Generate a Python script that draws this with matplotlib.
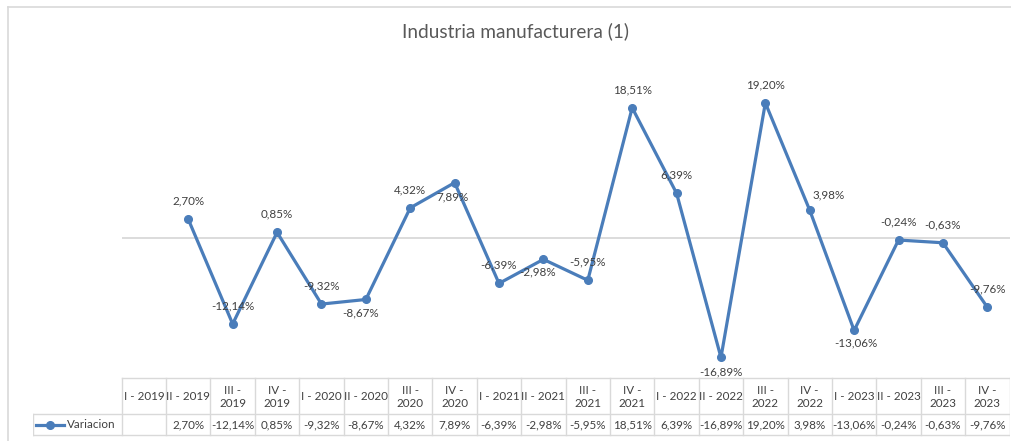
import numpy as np
import matplotlib.pyplot as plt

plt.rcParams['font.family'] = ['Lato', 'DejaVu Sans']

# Quarter labels and values (%)
quarters = ["I - 2019", "II - 2019", "III -\n2019", "IV -\n2019",
            "I - 2020", "II - 2020", "III -\n2020", "IV -\n2020",
            "I - 2021", "II - 2021", "III -\n2021", "IV -\n2021",
            "I - 2022", "II - 2022", "III -\n2022", "IV -\n2022",
            "I - 2023", "II - 2023", "III -\n2023", "IV -\n2023"]
variacion = [np.nan, 2.70, -12.14, 0.85, -9.32, -8.67, 4.32, 7.89, -6.39, -2.98,
             -5.95, 18.51, 6.39, -16.89, 19.20, 3.98, -13.06, -0.24, -0.63, -9.76]
series_name = "Variacion"
title = "Industria manufacturera (1)"

W, H = 1012, 441
blue = '#4a7dba'
grid = '#d9d9d9'
txt = '#404040'

def fmt(v):
    return "{:.2f}%".format(v).replace('.', ',')

# label offsets in pixels (dx, dy), just to place them like the original
lab_off = {5: (-5, -13), 7: (-2, -14), 9: (-6, -13), 13: (0, -14),
           15: (19, 15), 16: (2, -12)}

fig = plt.figure(figsize=(W / 100, H / 100), dpi=100)

# chart border (left/top visible)
fig.add_artist(plt.Line2D([8 / W, 8 / W], [0, 1 - 7 / H], color=grid, lw=1.2))
fig.add_artist(plt.Line2D([8 / W, 1], [1 - 7 / H, 1 - 7 / H], color=grid, lw=1.2))

x0, x1 = 121.7, 1009.5
ytop, ybot = 62, 379.4
ax = fig.add_axes([x0 / W, 1 - ybot / H, (x1 - x0) / W, (ybot - ytop) / H])
n = len(quarters)
idx = np.arange(n)
ax.set_xlim(-0.5, n - 0.5)
ax.set_ylim(-20, 25)
ax.axhline(0, color=grid, lw=1.3, zorder=1)
ax.plot(idx, variacion, color=blue, lw=2.3, marker='o', ms=5.5, zorder=3)
for i, v in enumerate(variacion):
    if np.isnan(v):
        continue
    dx, dy = lab_off.get(i, (0, 18))
    ax.annotate(fmt(v), (i, v), xytext=(dx, dy), textcoords='offset pixels',
                ha='center', va='center', fontsize=8.4, color=txt)
ax.axis('off')

fig.text(516 / W, 1 - 31 / H, title, ha='center', va='center',
         fontsize=13.7, color='#595959')

# data table under the chart
t_top, t_mid, t_bot = 378, 414, 435
lx = 33
tab = fig.add_axes([lx / W, 0, (x1 - lx) / W, 1])
tab.set_xlim(-0.5 - (x0 - lx) / ((x1 - x0) / n), n - 0.5)
tab.set_ylim(H, 0)
tab.axis('off')
left = tab.get_xlim()[0]
for k in range(n + 1):
    tab.plot([k - 0.5, k - 0.5], [t_top, t_bot], color=grid, lw=1)
tab.plot([left, left], [t_mid, t_bot], color=grid, lw=1)
tab.plot([-0.5, n - 0.5], [t_top, t_top], color=grid, lw=1)
tab.plot([left, n - 0.5], [t_mid, t_mid], color=grid, lw=1)
tab.plot([left, n - 0.5], [t_bot, t_bot], color=grid, lw=1)
for i, q in enumerate(quarters):
    tab.text(i, (t_top + t_mid) / 2 + 1, q, ha='center', va='center',
             fontsize=8.4, color=txt, linespacing=1.25)
    if not np.isnan(variacion[i]):
        tab.text(i, (t_mid + t_bot) / 2 + 0.5, fmt(variacion[i]), ha='center',
                 va='center', fontsize=8.4, color=txt)
# legend key
ky = (t_mid + t_bot) / 2
tab.plot([left + 0.07, left + 0.7], [ky, ky], color=blue, lw=2.3)
tab.plot([left + 0.385], [ky], color=blue, marker='o', ms=5.5)
tab.text(left + 0.77, ky + 0.5, series_name, ha='left', va='center',
         fontsize=8.4, color=txt)

fig.savefig('out.png', dpi=100)
